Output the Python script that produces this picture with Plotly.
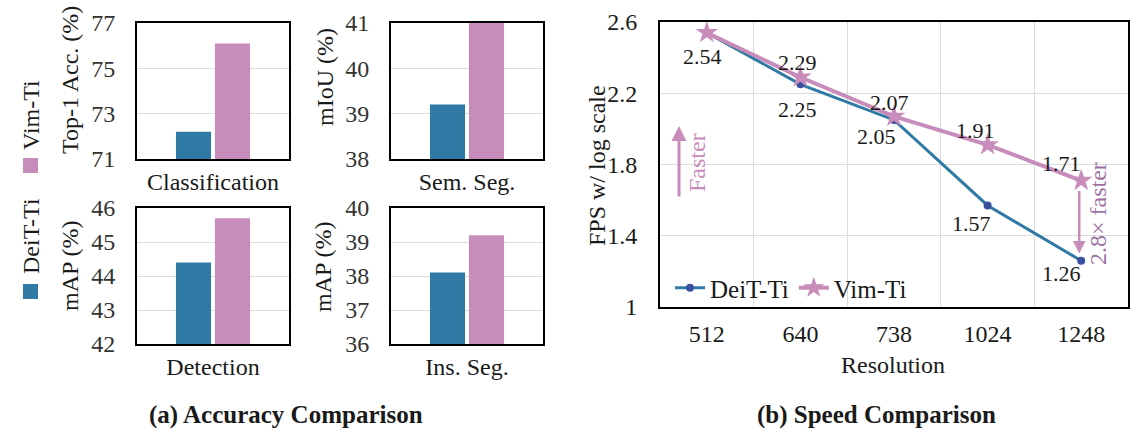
import plotly.graph_objects as go

W, H = 1140, 432
FONT = "Liberation Serif"
TXT = "#1a1a1a"
BLUE = "#2E7AA5"
PINK = "#C88CBB"
DOT = "#3A4FA0"
GRID = "#DCDCDC"

# ---------------- data ----------------
acc_tasks = ["Classification", "Sem. Seg.", "Detection", "Ins. Seg."]
deit_acc = [72.2, 39.2, 44.4, 38.1]
vim_acc = [76.1, 41.0, 45.7, 39.2]
acc_ranges = [[71, 77], [38, 41], [42, 46], [36, 40]]
acc_ticks = [[71, 73, 75, 77], [38, 39, 40, 41], [42, 43, 44, 45, 46], [36, 37, 38, 39, 40]]
acc_ylabels = ["Top-1 Acc. (%)", "mIoU (%)", "mAP (%)", "mAP (%)"]

resolutions = ["512", "640", "738", "1024", "1248"]
deit_fps = [2.54, 2.25, 2.05, 1.57, 1.26]
vim_fps = [2.54, 2.29, 2.07, 1.91, 1.71]
fps_ticks = [1, 1.4, 1.8, 2.2, 2.6]
fps_ticktext = ["1", "1.4", "1.8", "2.2", "2.6"]
speedup_text = "2.8× faster"


def fx(p):
    return p / W


def fy(p):
    return 1 - p / H


def note(text, px, py, size=24, color=TXT, angle=0, **kw):
    d = dict(text=text, x=fx(px), y=fy(py), xref="paper", yref="paper", showarrow=False,
             textangle=angle, font=dict(size=size, color=color), xanchor="center", yanchor="middle")
    d.update(kw)
    return d


# panel boxes in pixels: (x0, x1, ytop, ybottom)
boxes = [(137, 289, 23, 159), (391, 543, 23, 159), (137, 289, 208, 344), (391, 543, 208, 344)]
box_b = (660, 1128, 22, 307)

fig = go.Figure()
layout = dict(
    width=W, height=H, margin=dict(l=0, r=0, t=0, b=0, autoexpand=False),
    paper_bgcolor="white", plot_bgcolor="white",
    font=dict(family=FONT, size=24, color=TXT),
    barmode="group", bargap=0.487, bargroupgap=0.1,
    showlegend=True,
)

annotations = []
shapes = []

for i in range(4):
    n = "" if i == 0 else str(i + 1)
    xa, ya = "x" + n, "y" + n
    fig.add_trace(go.Bar(x=[acc_tasks[i]], y=[deit_acc[i]], marker=dict(color=BLUE, line=dict(width=0)),
                         name="DeiT-Ti", showlegend=False, xaxis=xa, yaxis=ya))
    fig.add_trace(go.Bar(x=[acc_tasks[i]], y=[vim_acc[i]], marker=dict(color=PINK, line=dict(width=0)),
                         name="Vim-Ti", showlegend=False, xaxis=xa, yaxis=ya))
    x0, x1, yt, yb = boxes[i]
    layout["xaxis" + n] = dict(domain=[fx(x0), fx(x1)], anchor=ya, type="category", automargin=False,
                               showline=True, linecolor="black", linewidth=2, mirror=True,
                               showgrid=False, ticks="", ticklabelstandoff=0,
                               tickfont=dict(size=24, color=TXT))
    layout["yaxis" + n] = dict(domain=[fy(yb), fy(yt)], anchor=xa, range=acc_ranges[i], automargin=False,
                               tickvals=acc_ticks[i], showline=True, linecolor="black", linewidth=2,
                               mirror=True, showgrid=True, gridcolor=GRID, gridwidth=1, zeroline=False,
                               ticks="", ticklabelstandoff=15, tickfont=dict(size=24, color="#333"))

# y-axis titles of accuracy panels
ytitle_pos = [(70, 80), (325, 77), (70, 266), (323, 267)]
for (px, py), t in zip(ytitle_pos, acc_ylabels):
    annotations.append(note(t, px, py, angle=-90))

# rotated legend for accuracy panels
annotations.append(note("Vim-Ti", 31, 115, angle=-90))
annotations.append(note("DeiT-Ti", 31, 236, angle=-90))
shapes.append(dict(type="rect", xref="paper", yref="paper", x0=fx(23), x1=fx(38), y0=fy(173), y1=fy(158),
                   fillcolor=PINK, line=dict(width=0)))
shapes.append(dict(type="rect", xref="paper", yref="paper", x0=fx(23), x1=fx(38), y0=fy(299), y1=fy(284),
                   fillcolor=BLUE, line=dict(width=0)))

# ---------------- speed panel ----------------
fig.add_trace(go.Scatter(x=resolutions, y=deit_fps, mode="lines+markers", name="DeiT-Ti",
                         line=dict(color=BLUE, width=3), marker=dict(color=DOT, size=8, symbol="circle"),
                         xaxis="x5", yaxis="y5"))
fig.add_trace(go.Scatter(x=resolutions, y=vim_fps, mode="lines+markers", name="Vim-Ti",
                         line=dict(color=PINK, width=4), marker=dict(color=PINK, size=17, symbol="star"),
                         xaxis="x5", yaxis="y5"))
x0, x1, yt, yb = box_b
layout["xaxis5"] = dict(domain=[fx(x0), fx(x1)], anchor="y5", type="category", range=[-0.5, 4.5],
                        automargin=False,
                        showline=True, linecolor="black", linewidth=2, mirror=True,
                        showgrid=True, gridcolor=GRID, tickson="boundaries", ticks="",
                        ticklabelstandoff=4, tickfont=dict(size=24, color=TXT))
layout["yaxis5"] = dict(domain=[fy(yb), fy(yt)], anchor="x5", range=[1, 2.6], tickvals=fps_ticks,
                        automargin=False,
                        ticktext=fps_ticktext, showline=True, linecolor="black", linewidth=2, mirror=True,
                        showgrid=True, gridcolor=GRID, zeroline=False, ticks="", ticklabelstandoff=16,
                        tickfont=dict(size=24, color=TXT))
annotations.append(note("FPS w/ log scale", 597, 166, angle=-90))
annotations.append(note("Resolution", 893, 365))

# value labels (pixel offsets); x given as category index
deit_shift = [(-4, -24), (-3, -25), (-18, -17), (-16, -18), (-20, -13)]
vim_shift = [None, (-3, 15), (-5, 14), (-12, 14), (-20, 17)]
for i, r in enumerate(resolutions):
    dx, dy = deit_shift[i]
    annotations.append(dict(text=f"{deit_fps[i]:.2f}", x=i, y=deit_fps[i], xref="x5", yref="y5",
                            showarrow=False, xshift=dx, yshift=dy, font=dict(size=22, color=TXT),
                            xanchor="center", yanchor="middle"))
    if vim_shift[i] is not None:
        dx, dy = vim_shift[i]
        annotations.append(dict(text=f"{vim_fps[i]:.2f}", x=i, y=vim_fps[i], xref="x5", yref="y5",
                                showarrow=False, xshift=dx, yshift=dy, font=dict(size=22, color=TXT),
                                xanchor="center", yanchor="middle"))

# "Faster" arrow
annotations.append(dict(text="", x=fx(679), y=fy(126), xref="paper", yref="paper", showarrow=True,
                        ax=0, ay=72, arrowhead=2, arrowsize=1, arrowwidth=3, arrowcolor=PINK))
annotations.append(note("Faster", 697, 163, color=PINK, angle=-90))
# speedup arrow
last = len(resolutions) - 1
annotations.append(dict(text="", x=last, y=deit_fps[-1] + 0.04, xref="x5", yref="y5",
                        ax=last, ay=vim_fps[-1] - 0.05, axref="x5", ayref="y5",
                        showarrow=True, arrowhead=2, arrowsize=1, arrowwidth=2.5, arrowcolor=PINK,
                        xshift=-2))
annotations.append(note(speedup_text, 1098, 214, color="#9C72A3", angle=-90))

# sub-figure titles
annotations.append(note("<b>(a) Accuracy Comparison</b>", 286, 415, size=25))
annotations.append(note("<b>(b) Speed Comparison</b>", 877, 415, size=25))

layout["legend"] = dict(orientation="h", x=fx(670), y=fy(288), xanchor="left", yanchor="middle",
                        bgcolor="rgba(0,0,0,0)", font=dict(size=25, color=TXT), itemwidth=30,
                        tracegroupgap=0)
layout["annotations"] = annotations
layout["shapes"] = shapes
fig.update_layout(**layout)

fig.write_html("out.html")
